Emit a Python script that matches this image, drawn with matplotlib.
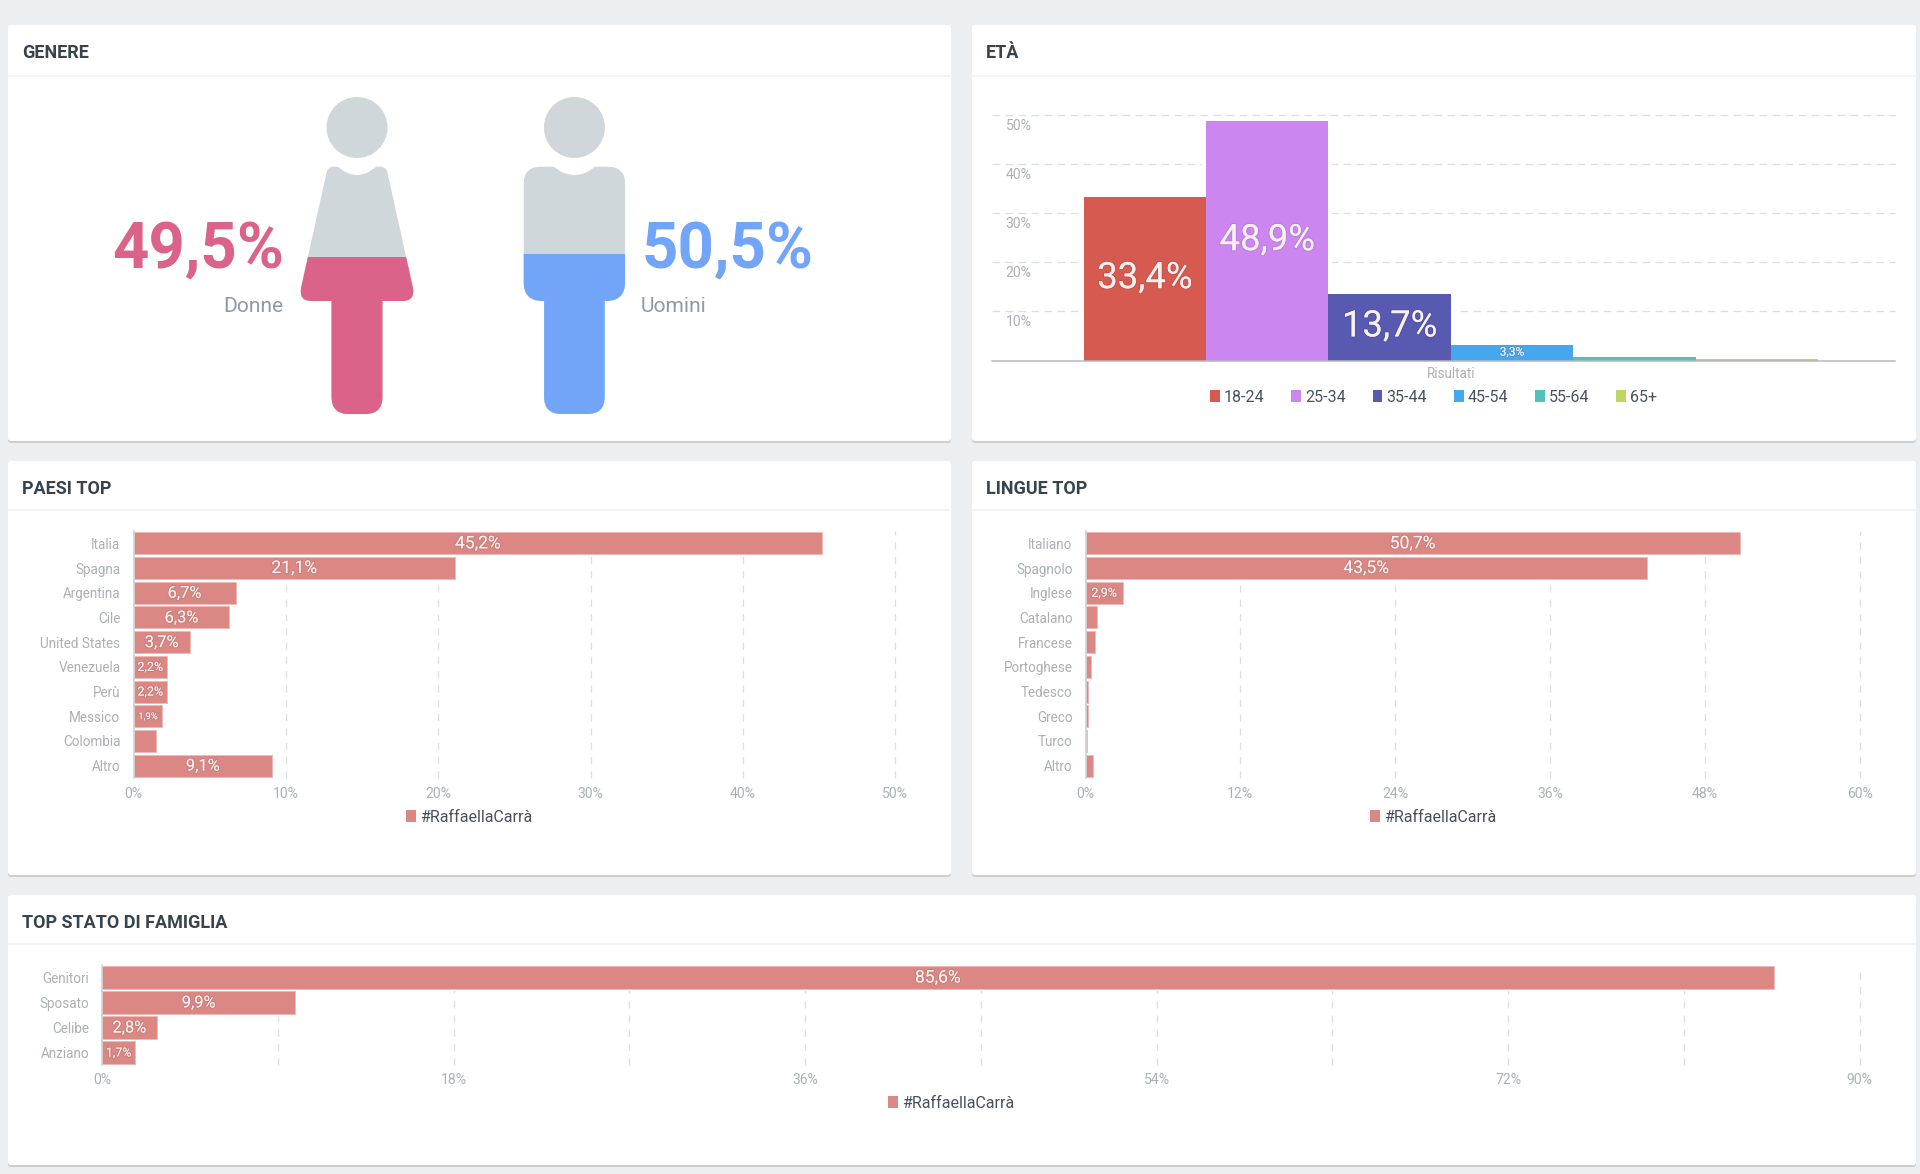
import matplotlib
matplotlib.use('Agg')
import matplotlib.pyplot as plt
import matplotlib.patheffects as pe
from matplotlib.patches import Circle, FancyBboxPatch, Patch, PathPatch, Rectangle
from matplotlib.path import Path

plt.rcParams['font.family'] = ['Roboto', 'DejaVu Sans']

gender_labels = ['Donne', 'Uomini']
gender_values = [49.5, 50.5]

age_labels = ['18-24', '25-34', '35-44', '45-54', '55-64', '65+']
age_values = [33.4, 48.9, 13.7, 3.3, 0.7, 0.4]
age_ticks = [10, 20, 30, 40, 50]

country_labels = ['Italia', 'Spagna', 'Argentina', 'Cile', 'United States',
                  'Venezuela', 'Perù', 'Messico', 'Colombia', 'Altro']
country_values = [45.2, 21.1, 6.7, 6.3, 3.7, 2.2, 2.2, 1.9, 1.5, 9.1]
country_ticks = [0, 10, 20, 30, 40, 50]

language_labels = ['Italiano', 'Spagnolo', 'Inglese', 'Catalano', 'Francese',
                   'Portoghese', 'Tedesco', 'Greco', 'Turco', 'Altro']
language_values = [50.7, 43.5, 2.9, 0.9, 0.7, 0.4, 0.2, 0.2, 0.15, 0.6]
language_ticks = [0, 12, 24, 36, 48, 60]

family_labels = ['Genitori', 'Sposato', 'Celibe', 'Anziano']
family_values = [85.6, 9.9, 2.8, 1.7]
family_ticks = [0, 9, 18, 27, 36, 45, 54, 63, 72, 81, 90]
family_ticklabels = ['0%', '', '18%', '', '36%', '', '54%', '', '72%', '', '90%']

series_name = '#RaffaellaCarrà'

BG = '#ebeff2'
TITLE = '#37444d'
TICK = '#a9b1b4'
LEGEND = '#465160'
GRID = '#dcdfe1'
BAR = '#db8885'
BAR_EDGE = '#eeb9b6'
AGE_COLORS = ['#d75a50', '#cb86f0', '#5859b1', '#47a7ee', '#4ec3bb', '#bdd763']
W, H = 1920, 1174


def pt(px):
    return px * 0.72


fig = plt.figure(figsize=(W / 100, H / 100), dpi=100, facecolor=BG)
bg = fig.add_axes([0, 0, 1, 1])
bg.set_xlim(0, W)
bg.set_ylim(H, 0)
bg.axis('off')


def add_axes_px(x0, y0, x1, y1):
    ax = fig.add_axes([x0 / W, 1 - y1 / H, (x1 - x0) / W, (y1 - y0) / H])
    ax.patch.set_visible(False)
    return ax


def card(x0, y0, x1, y1, header_y, title):
    bg.add_patch(FancyBboxPatch((x0, y0 + 2), x1 - x0, y1 - y0, boxstyle='round,pad=0,rounding_size=3',
                                fc='#c9cfd2', ec='none', zorder=1))
    bg.add_patch(FancyBboxPatch((x0, y0), x1 - x0, y1 - y0, boxstyle='round,pad=0,rounding_size=3',
                                fc='white', ec='none', zorder=2))
    bg.plot([x0, x1], [header_y, header_y], color='#f1f3f4', lw=pt(2), zorder=3)
    bg.text(x0 + 14, (y0 + header_y) / 2 + 3, title, fontsize=pt(18), fontweight='bold',
            color=TITLE, ha='left', va='center', zorder=4)


card(8, 25, 951, 441, 76, 'GENERE')
card(972, 25, 1916, 441, 76, 'ETÀ')
card(8, 461, 951, 875, 510, 'PAESI TOP')
card(972, 461, 1916, 875, 510, 'LINGUE TOP')
card(8, 895, 1916, 1165, 944, 'TOP STATO DI FAMIGLIA')

# gender icons, right half of each outline, mirrored below
L, Q = Path.LINETO, Path.CURVE3
woman_half = [(0, 175, Path.MOVETO), (10, 175, Q), (19, 166.7, Q), (24, 166.7, L), (30, 167, Q), (31, 175, Q),
              (56, 288, L), (58, 301, Q), (46, 301, Q), (25.5, 301, L), (25.5, 397, L), (25.5, 414, Q),
              (8.5, 414, Q), (0, 414, L)]
man_half = [(0, 175, Path.MOVETO), (11, 175, Q), (20.5, 166.7, Q), (33.5, 166.7, L), (50.7, 166.7, Q),
            (50.7, 184, Q), (50.7, 282, L), (50.7, 301, Q), (32, 301, Q), (30.3, 301, L), (30.3, 397, L),
            (30.3, 414, Q), (13, 414, Q), (0, 414, L)]


def person(cx, half, value, color):
    verts = [(cx + x, y) for x, y, c in half]
    verts += [(cx - x, y) for x, y, c in half[-2::-1]]
    codes = [c for x, y, c in half]
    codes += [c for x, y, c in half[:0:-1]]
    body = PathPatch(Path(verts, codes), fc='#d0d7da', ec='none', zorder=5)
    bg.add_patch(body)
    bg.add_patch(Circle((cx, 127.5), 30.5, fc='#d0d7da', ec='none', zorder=5))
    top, bottom = 97, 414.5
    level = (bottom - top) * value / 100
    fill = Rectangle((cx - 70, bottom - level), 140, level, fc=color, ec='none', zorder=6)
    bg.add_patch(fill)
    fill.set_clip_path(body)


def pct(v):
    return f'{v:.1f}'.replace('.', ',') + '%'


person(357, woman_half, gender_values[0], '#db6288')
person(574.4, man_half, gender_values[1], '#72a5f7')
bg.text(284, 268, pct(gender_values[0]), fontsize=pt(63.5), fontweight='bold', color='#db6288',
        ha='right', va='baseline', zorder=7)
bg.text(641.5, 268, pct(gender_values[1]), fontsize=pt(63.5), fontweight='bold', color='#72a5f7',
        ha='left', va='baseline', zorder=7)
bg.text(283.5, 306, gender_labels[0], fontsize=pt(21), color='#8a9aa8', ha='right', va='center', zorder=7)
bg.text(641, 306, gender_labels[1], fontsize=pt(21), color='#8a9aa8', ha='left', va='center', zorder=7)

shadow = [pe.withStroke(linewidth=1.5, foreground=(0, 0, 0, 0.08))]


def bar_label(ax, x, y, text, size):
    ax.text(x, y, text, fontsize=pt(size), color='#f8efef', ha='center', va='center',
            zorder=6, path_effects=shadow)


# age chart
ax = add_axes_px(992, 116.5, 1895, 360.7)
ax.set_ylim(0, 49.85)
ax.set_xlim(-1.25, 6.13)
pos = list(range(len(age_values)))
ax.bar(pos, age_values, width=1, color='white', edgecolor='white', linewidth=pt(8), zorder=2)
ax.bar(pos, age_values, width=1, color=AGE_COLORS, edgecolor='none', zorder=3)
for v in age_ticks:
    ax.axhline(v + 0.2, color=GRID, lw=pt(1.3), ls=(0, (6, 4)), zorder=1, clip_on=False)
    ax.annotate(f'{v}%', xy=(0, v), xycoords=('axes fraction', 'data'), xytext=(pt(13.6), pt(-10.5)),
                textcoords='offset points', ha='left', va='center', fontsize=pt(14), color=TICK)
for s in ['top', 'left', 'right']:
    ax.spines[s].set_visible(False)
ax.spines['bottom'].set_color('#b4b9bb')
ax.spines['bottom'].set_linewidth(pt(1.5))
ax.spines['bottom'].set_zorder(5)
ax.set_xticks([])
ax.set_yticks([])
for i, v in enumerate(age_values):
    if v > 10:
        bar_label(ax, i, v / 2 + 0.15, pct(v), 36.5)
    elif v > 2:
        bar_label(ax, i, v / 2 + 0.1, pct(v), 12)
bg.text(1451, 374, 'Risultati', fontsize=pt(13.5), color=TICK, ha='center', va='center', zorder=7)
handles = [Patch(fc=c, ec='none', label=n) for c, n in zip(AGE_COLORS, age_labels)]
ax.legend(handles=handles, ncol=6, loc='center', bbox_to_anchor=(1433.5, 397), bbox_transform=bg.transData,
          frameon=False, fontsize=pt(16), labelcolor=LEGEND, handlelength=0.62, handleheight=0.7,
          handletextpad=0.25, columnspacing=1.68)


def hbar_chart(box, labels, values, ticks, ticklabels, legend_xy):
    ax = add_axes_px(*box)
    pos = list(range(len(values)))
    ax.set_xlim(ticks[0], ticks[-1])
    ax.set_ylim(len(values) - 0.5, -0.5)
    ax.barh(pos, values, height=0.89, color='white', edgecolor='white', linewidth=pt(4), zorder=2)
    ax.barh(pos, values, height=0.89, color=BAR, edgecolor=BAR_EDGE, linewidth=pt(1), zorder=3)
    for t in ticks[1:]:
        ax.axvline(t, color=GRID, lw=pt(1.3), ls=(0, (5.5, 5.5)), zorder=1, clip_on=False)
    for s in ['top', 'bottom', 'right']:
        ax.spines[s].set_visible(False)
    ax.spines['left'].set_color('#c9cfd1')
    ax.spines['left'].set_linewidth(pt(1.5))
    ax.spines['left'].set_zorder(5)
    ax.set_yticks(pos)
    ax.set_yticklabels(labels)
    ax.set_xticks(ticks)
    ax.set_xticklabels(ticklabels)
    ax.tick_params(axis='y', length=0, pad=pt(13), labelsize=pt(13.5), labelcolor=TICK)
    ax.tick_params(axis='x', length=0, pad=pt(8.5), labelsize=pt(14), labelcolor=TICK)
    px_per_unit = (box[2] - box[0]) / (ticks[-1] - ticks[0])
    for i, v in enumerate(values):
        w = v * px_per_unit
        if v < 1.6:
            continue
        size = 17.5 if w >= 300 else 16.5 if w >= 50 else 12.5 if w >= 30 else 9.5
        bar_label(ax, v / 2, i + 0.02, pct(v), size)
    ax.legend(handles=[Patch(fc=BAR, ec='none', label=series_name)], loc='center', bbox_to_anchor=legend_xy,
              bbox_transform=bg.transData, frameon=False, fontsize=pt(16), labelcolor=LEGEND,
              handlelength=0.62, handleheight=0.7, handletextpad=0.25)


hbar_chart((133.5, 531, 895.3, 778), country_labels, country_values, country_ticks,
           [f'{t}%' for t in country_ticks], (469.5, 817))
hbar_chart((1085.5, 531, 1859.6, 778), language_labels, language_values, language_ticks,
           [f'{t}%' for t in language_ticks], (1433, 817))
hbar_chart((102, 965, 1859.6, 1065), family_labels, family_values, family_ticks,
           family_ticklabels, (951, 1103))

fig.savefig('out.png', dpi=100, facecolor=BG)
